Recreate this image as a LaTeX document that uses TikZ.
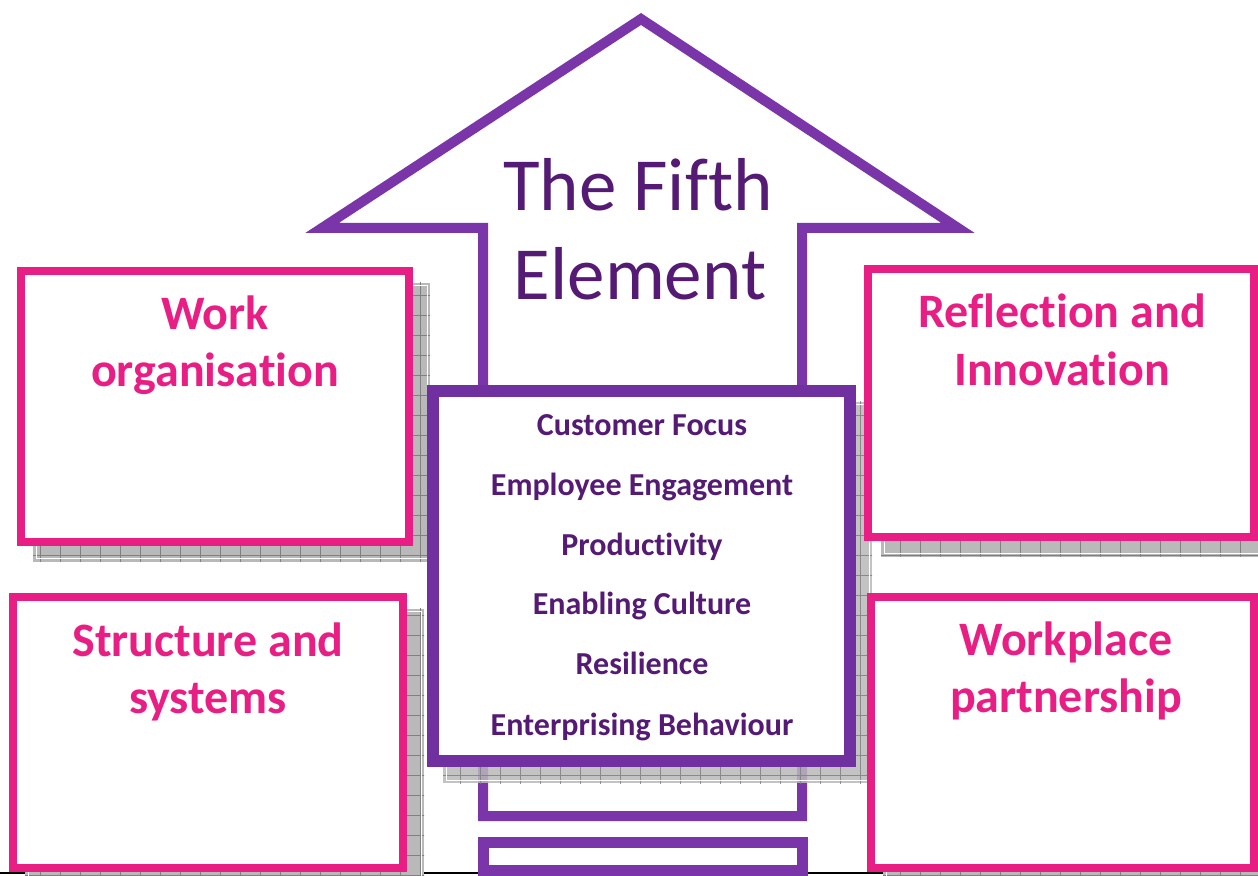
\documentclass[tikz,border=0pt]{standalone}
\usepackage{fontspec}
\setmainfont{Carlito}[Ligatures=NoCommon]
\usetikzlibrary{patterns.meta}
\definecolor{pinkc}{RGB}{233,30,132}
\definecolor{arrowc}{RGB}{122,54,168}
\definecolor{boxc}{RGB}{112,48,160}
\definecolor{textc}{RGB}{84,26,116}
\begin{document}
\begin{tikzpicture}[x=0.5pt,y=-0.5pt,
  shadowfill/.style={fill=gray!55, postaction={pattern={Hatch[angle=0,distance=10pt,line width=0.5pt]}, pattern color=gray}},
  shadowline/.style={draw=white, line width=0.5pt},
  pinkbox/.style={draw=pinkc, line width=4pt, fill=white},
  arrowline/.style={draw=arrowc, line width=5pt, fill=white, line join=miter},
  centerbox/.style={draw=boxc, line width=6pt, fill=white},
  pinktext/.style={anchor=base, text=pinkc, font=\fontsize{24}{28}\selectfont\bfseries, inner sep=0pt},
  listtext/.style={anchor=base, text=textc, font=\fontsize{16}{18}\selectfont\bfseries, inner sep=0pt},
  titletext/.style={anchor=base, text=textc, font=\fontsize{37.5}{44}\selectfont, inner sep=0pt}]
\useasboundingbox (0,0) rectangle (1258,876);
\clip (0,0) rectangle (1258,876);
\fill[white] (0,0) rectangle (1258,876);

% page line at bottom
\draw[black, line width=0.6pt] (0,873) -- (1258,873);

% big arrow
\draw[arrowline] (641,19) -- (958,228) -- (802,228) -- (802,816) -- (483,816) -- (483,228) -- (322,228) -- cycle;
\draw[arrowline, line width=5.5pt] (483,842) rectangle (802,870);

% shadows
\fill[shadowfill] (33,283) rectangle (430,562);
\draw[shadowline] (36,286) rectangle (427,559);
\fill[shadowfill] (881,281) rectangle (1275,557);
\draw[shadowline] (884,284) rectangle (1272,554);
\fill[shadowfill] (25,609) rectangle (424,890);
\draw[shadowline] (28,612) rectangle (421,887);
\fill[shadowfill] (883,609) rectangle (1275,890);
\draw[shadowline] (886,612) rectangle (1272,887);
\fill[shadowfill, opacity=0.85] (443,402) rectangle (872,783);
\draw[shadowline] (446,405) rectangle (869,780);

% pink boxes
\draw[pinkbox] (21,271) rectangle (409,542);
\draw[pinkbox] (868,269) rectangle (1254,537);
\draw[pinkbox] (13,597) rectangle (403,868);
\draw[pinkbox] (871,597) rectangle (1254,868);

% centre box
\draw[centerbox] (433,391) rectangle (850,761);

% title
\node[titletext] (t1) at (638,211) {The Fifth};
\node[titletext] (t2) at (640,300) {Element};

% pink box labels
\node[pinktext] (w1) at (215,330) {Work};
\node[pinktext] (w2) at (215,387) {organisation};
\node[pinktext] (r1) at (1062,328) {Reflection and};
\node[pinktext] (r2) at (1062,386) {Innovation};
\node[pinktext] (s1) at (208,656) {Structure and};
\node[pinktext] (s2) at (208,713) {systems};
\node[pinktext] (p1) at (1066,655) {Workplace};
\node[pinktext] (p2) at (1066,712) {partnership};

% centre list
\node[listtext] (c1) at (642,436) {Customer Focus};
\node[listtext] (c2) at (642,496) {Employee Engagement};
\node[listtext] (c3) at (642,556) {Productivity};
\node[listtext] (c4) at (642,615) {Enabling Culture};
\node[listtext] (c5) at (642,675) {Resilience};
\node[listtext] (c6) at (642,735) {Enterprising Behaviour};
\end{tikzpicture}
\end{document}
